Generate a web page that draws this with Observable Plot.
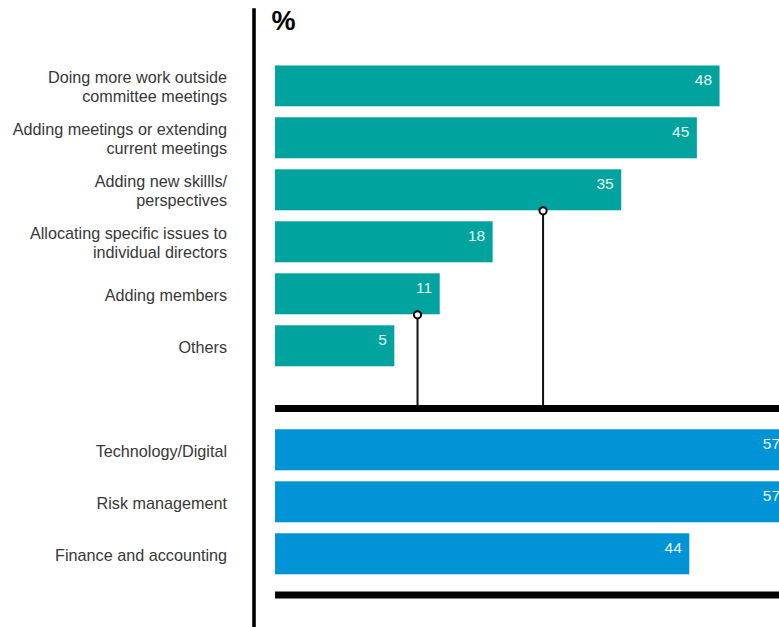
<!DOCTYPE html>
<html>
<head>
<meta charset="utf-8">
<script src="https://cdn.jsdelivr.net/npm/d3@7"></script>
<script src="https://cdn.jsdelivr.net/npm/@observablehq/plot@0.6"></script>
<style>
  html, body { margin: 0; padding: 0; background: #fff; overflow: hidden; }
  #chart svg { display: block; }
</style>
</head>
<body>
<div id="chart"></div>
<script>
// ---- data ----
const approachCategories = [
  "Doing more work outside\ncommittee meetings",
  "Adding meetings or extending\ncurrent meetings",
  "Adding new skillls/\nperspectives",
  "Allocating specific issues to\nindividual directors",
  "Adding members",
  "Others"
];
const approachValues = [48, 45, 35, 18, 11, 5];

const topicCategories = [
  "Technology/Digital",
  "Risk management",
  "Finance and accounting"
];
const topicValues = [57, 57, 44];

const gapTop = "gap-1";
const gapBottom = "gap-2";
const yDomain = [...approachCategories, gapTop, ...topicCategories, gapBottom];

// connector annotations (x in value units)
const connectorFrom = ["Adding new skillls/\nperspectives", "Adding members"];
const connectorX = [24.6, 8.0];

const unitLabel = ["%"];

// ---- build tables ----
const approaches = approachCategories.map((c, i) => ({category: c, value: approachValues[i], group: "approach"}));
const topics = topicCategories.map((c, i) => ({category: c, value: topicValues[i], group: "topic"}));
const bars = [...approaches, ...topics];
const connectors = connectorFrom.map((c, i) => ({category: c, x: connectorX[i]}));

const xMin = -13.62, xMax = 55.86, barBase = -10.77;
const teal = "#00A39E", blue = "#0094D7";
const font = "'Liberation Sans', Arial, sans-serif";

const chart = Plot.plot({
  width: 779,
  height: 627,
  marginLeft: 253.5,
  marginRight: 0,
  marginTop: 65.3,
  marginBottom: 0.7,
  style: {fontFamily: font, background: "#fff", overflow: "hidden"},
  x: {domain: [xMin, xMax], axis: null},
  y: {type: "band", domain: yDomain, paddingInner: 0.2115, paddingOuter: 0, round: false, axis: null},
  color: {domain: ["approach", "topic"], range: [teal, blue]},
  marks: [
    Plot.barX(bars, {y: "category", x1: () => barBase, x2: "value", fill: "group", clip: true}),
    Plot.text(bars, {
      y: "category", x: "value", text: d => String(d.value),
      textAnchor: "end", dx: -8, dy: -6, fill: "#e6f5f5", fontSize: 15.5
    }),
    // category labels
    Plot.text([...approachCategories, ...topicCategories], {
      y: d => d, frameAnchor: "left", text: d => d, textAnchor: "end",
      dx: -27, lineAnchor: "middle", lineHeight: 1.2, fontSize: 16.2, fill: "#383838"
    }),
    // vertical axis line
    Plot.ruleX([xMin], {stroke: "#000", strokeWidth: 3.6, insetTop: -57, insetBottom: -1}),
    // connectors
    Plot.ruleX(connectors, {x: "x", y1: "category", y2: () => gapTop, insetTop: 41, insetBottom: 10.3, stroke: "#111", strokeWidth: 2}),
    Plot.dot(connectors, {x: "x", y: "category", dy: 20.5, r: 3.6, fill: "#fff", stroke: "#000", strokeWidth: 2}),
    // separator lines
    Plot.ruleY([gapTop], {x1: barBase, x2: xMax, dy: 10.2, stroke: "#000", strokeWidth: 7}),
    Plot.ruleY([gapBottom], {x1: barBase, x2: xMax, dy: -11.3, stroke: "#000", strokeWidth: 7}),
    // unit label
    Plot.text(unitLabel, {
      frameAnchor: "top-left", text: d => d, textAnchor: "start", lineAnchor: "bottom",
      dx: 17.5, dy: -36, fontSize: 27, fontWeight: "bold", fill: "#000"
    })
  ]
});
document.getElementById("chart").appendChild(chart);
</script>
</body>
</html>
